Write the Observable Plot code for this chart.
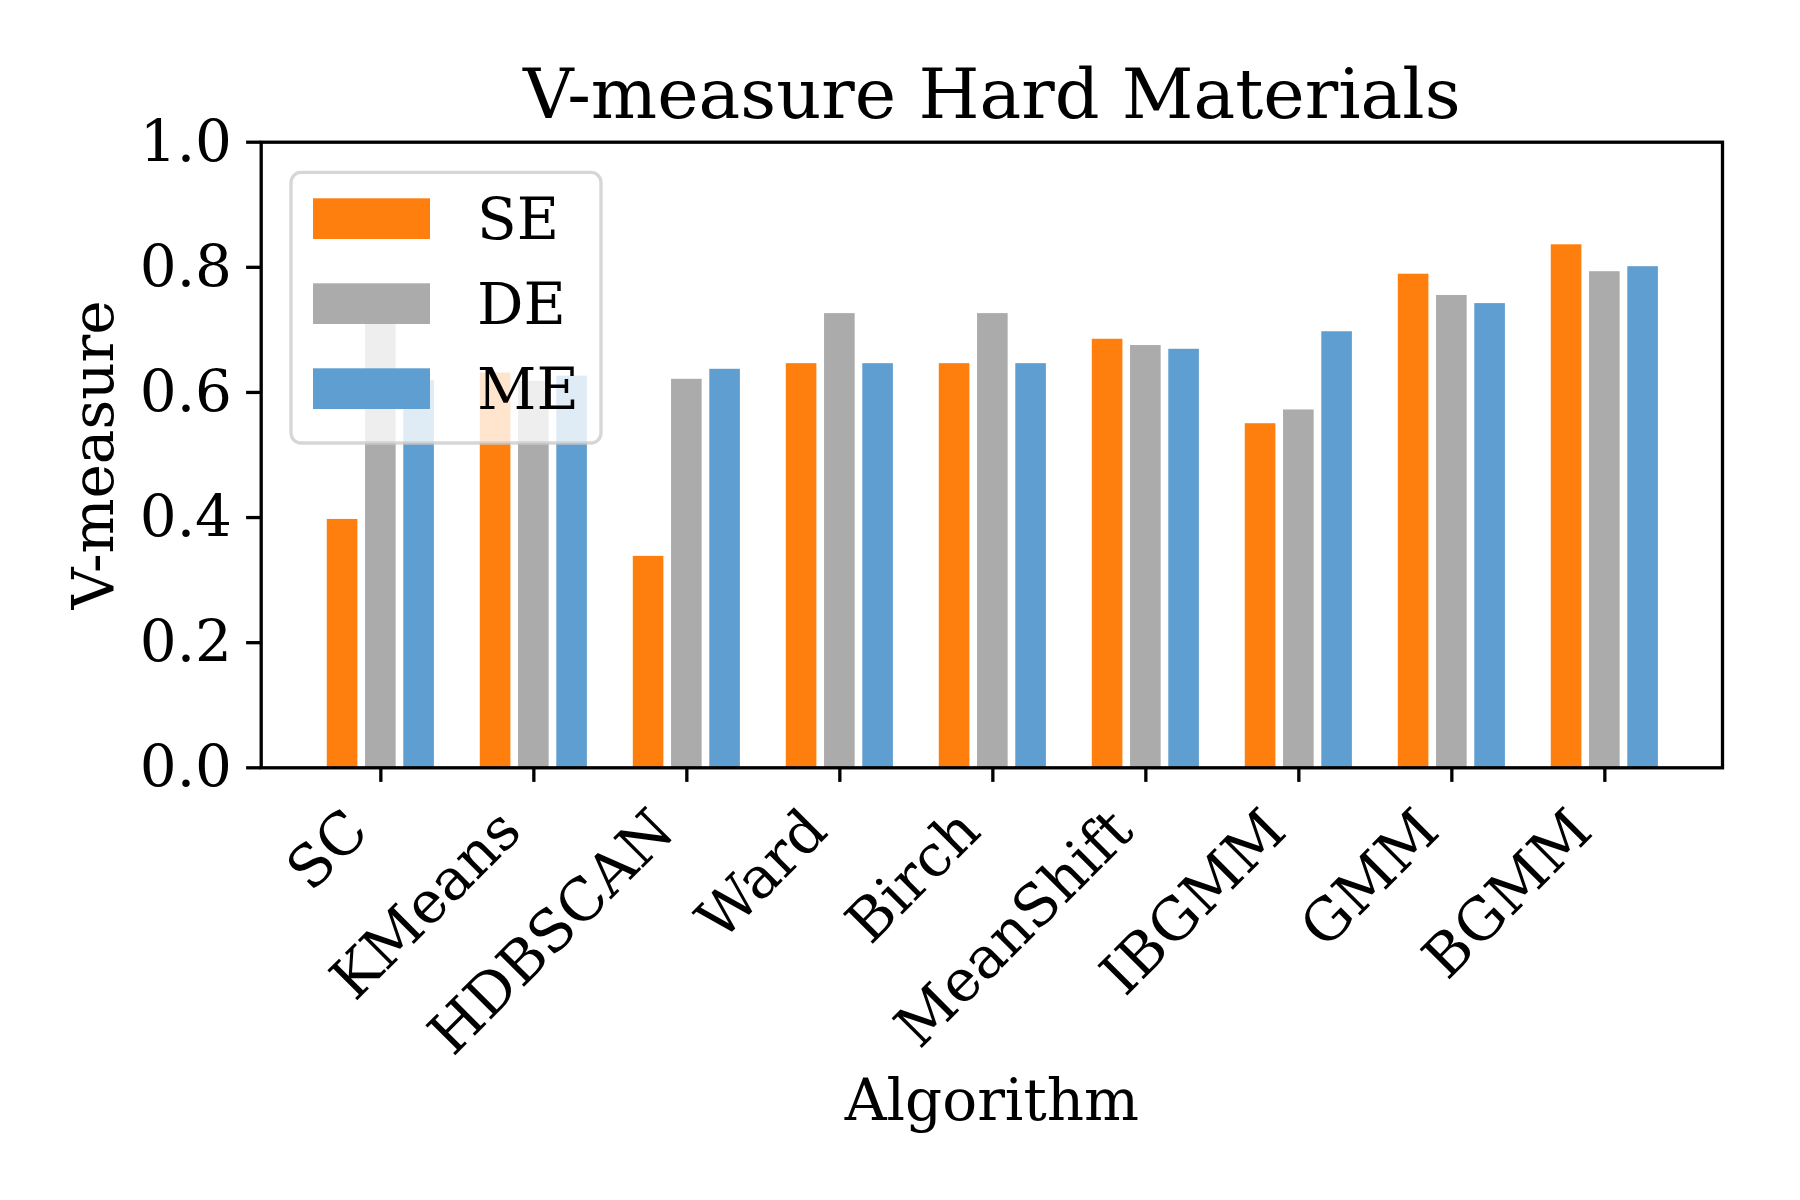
<!DOCTYPE html>
<html>
<head>
<meta charset="utf-8">
<script src="https://cdn.jsdelivr.net/npm/d3@7"></script>
<script src="https://cdn.jsdelivr.net/npm/@observablehq/plot@0.6"></script>
<style>
  html, body { margin: 0; padding: 0; background: #fff; }
  #chart svg { display: block; }
</style>
</head>
<body>
<div id="chart"></div>
<script>
// Clustering algorithms on the x axis
const algorithms = ["SC", "KMeans", "HDBSCAN", "Ward", "Birch", "MeanShift", "IBGMM", "GMM", "BGMM"];

// V-measure per embedding type
const seValues = [0.397, 0.631, 0.338, 0.646, 0.646, 0.685, 0.550, 0.789, 0.836];
const deValues = [0.730, 0.618, 0.621, 0.726, 0.726, 0.675, 0.572, 0.755, 0.793];
const meValues = [0.619, 0.626, 0.637, 0.646, 0.646, 0.669, 0.697, 0.742, 0.801];

const seriesNames = ["SE", "DE", "ME"];
const seriesColors = ["#ff7f0e", "#ababab", "#5f9ed1"];
const yTicks = [0, 0.2, 0.4, 0.6, 0.8, 1.0];

// Grouped bars: each series is shifted within its algorithm slot
const barWidth = 0.2;
const offsets = [-0.25, 0, 0.25];
const seriesValues = [seValues, deValues, meValues];
const rows = [];
seriesNames.forEach((s, k) => {
  algorithms.forEach((a, i) => {
    rows.push({algorithm: a, index: i, series: s, value: seriesValues[k][i], center: i + offsets[k]});
  });
});
const slots = algorithms.map((a, i) => i);

const FONT = "DejaVu Serif";
const LINE = 3.3;

const chart = Plot.plot({
  width: 1800,
  height: 1200,
  marginLeft: 260.7,
  marginRight: 78,
  marginTop: 141.7,
  marginBottom: 432.7,
  style: {fontFamily: FONT, fontSize: "58px", background: "#fff", color: "#000"},
  x: {type: "linear", domain: [-0.782, 8.769], axis: null},
  y: {domain: [0, 1], axis: null},
  color: {domain: seriesNames, range: seriesColors},
  marks: [
    Plot.rectY(rows, {
      x1: d => d.center - barWidth / 2,
      x2: d => d.center + barWidth / 2,
      y: "value",
      fill: "series"
    }),
    Plot.frame({stroke: "#000", strokeWidth: LINE}),
    Plot.axisY({
      ticks: yTicks,
      tickFormat: d3.format(".1f"),
      tickSize: 14.6,
      tickPadding: 14.6,
      strokeWidth: LINE,
      fontSize: 58,
      label: null
    }),
    Plot.axisX({
      ticks: slots,
      tickFormat: () => "",
      tickSize: 14.6,
      strokeWidth: LINE,
      label: null
    }),
    // Rotated category labels under each tick
    Plot.text(slots, {
      x: d => d,
      frameAnchor: "bottom",
      text: d => algorithms[d],
      rotate: -45,
      textAnchor: "end",
      lineAnchor: "bottom",
      dx: -10,
      dy: 66,
      fontSize: 58
    }),
    Plot.text(["V-measure Hard Materials"], {
      frameAnchor: "top",
      textAnchor: "middle",
      lineAnchor: "bottom",
      dy: -24.4,
      fontSize: 70
    }),
    Plot.text(["Algorithm"], {
      frameAnchor: "bottom",
      textAnchor: "middle",
      lineAnchor: "bottom",
      dy: 352,
      fontSize: 58
    }),
    Plot.text(["V-measure"], {
      frameAnchor: "left",
      rotate: -90,
      textAnchor: "middle",
      lineAnchor: "bottom",
      dx: -148.7,
      fontSize: 58
    })
  ]
});

document.getElementById("chart").appendChild(chart);

// Legend drawn over the plot area with a translucent white box
const svg = d3.select(chart);
const legend = svg.append("g")
  .attr("font-family", FONT)
  .attr("font-size", 58)
  .attr("text-anchor", "start");
legend.append("rect")
  .attr("x", 291).attr("y", 172.4)
  .attr("width", 310).attr("height", 270.6)
  .attr("rx", 10).attr("ry", 10)
  .attr("fill", "#fff").attr("fill-opacity", 0.8)
  .attr("stroke", "#cccccc").attr("stroke-opacity", 0.8)
  .attr("stroke-width", LINE);
seriesNames.forEach((s, k) => {
  const top = 198.3 + k * 85;
  legend.append("rect")
    .attr("x", 313).attr("y", top)
    .attr("width", 117).attr("height", 40.7)
    .attr("fill", seriesColors[k]);
  legend.append("text")
    .attr("x", 477).attr("y", top + 41)
    .attr("text-anchor", "start")
    .attr("fill", "#000")
    .text(s);
});
</script>
</body>
</html>
